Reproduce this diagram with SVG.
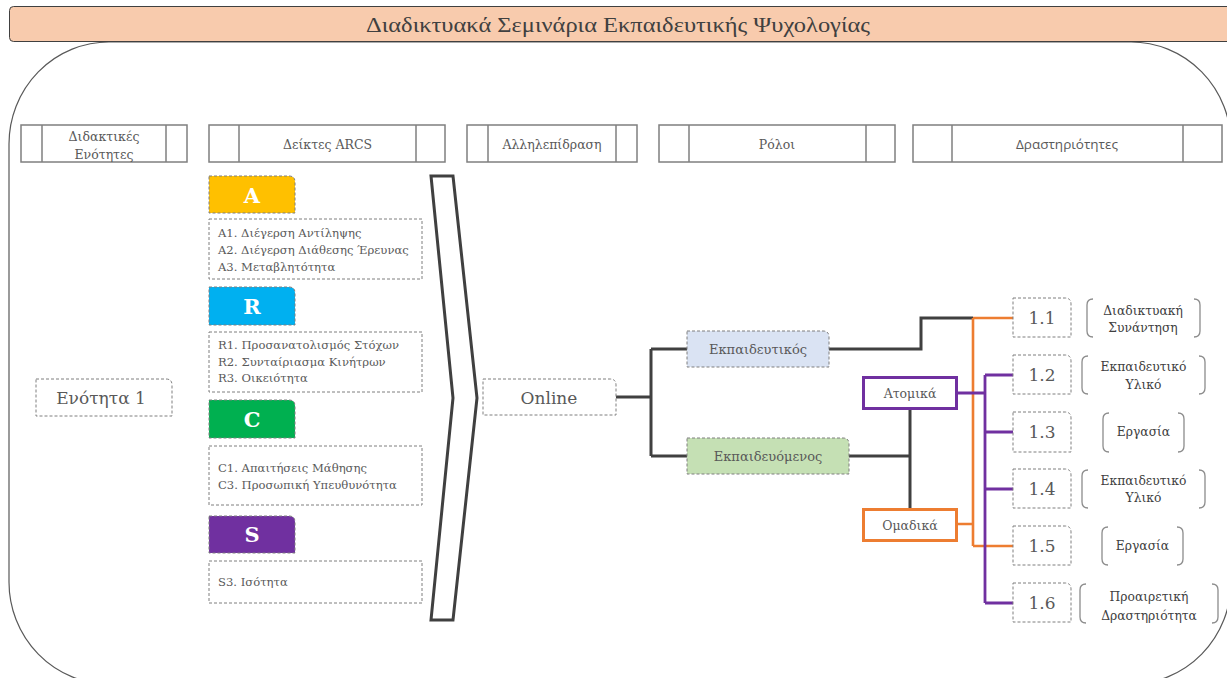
<svg xmlns="http://www.w3.org/2000/svg" width="1227" height="678" viewBox="0 0 1227 678">
  <style>
    .frame { fill: #ffffff; stroke: #595959; stroke-width: 1.2; }
    .hdr { fill: #ffffff; stroke: #7f7f7f; stroke-width: 1.5; }
    .hdr-line { stroke: #7f7f7f; stroke-width: 1.5; }
    .dash { fill: #ffffff; stroke: #7f7f7f; stroke-width: 1; stroke-dasharray: 3 2; }
    .br { fill: none; stroke: #8c8c8c; stroke-width: 1.3; }
    .t { font-family: "DejaVu Serif", "Liberation Serif", serif; fill: #595959; }
    .hd { font-size: 12.5px; text-anchor: middle; }
    .li { font-size: 11.6px; }
    .tab { font-family: "DejaVu Serif", "Liberation Serif", serif; font-weight: bold; font-size: 21px; fill: #ffffff; text-anchor: middle; }
    .num { font-size: 17px; text-anchor: middle; fill: #595959; }
    .lbl { font-size: 12.3px; text-anchor: middle; fill: #404040; }
    .dark { fill: none; stroke: #404040; stroke-width: 3; }
    .orange { fill: none; stroke: #ed7d31; stroke-width: 2.6; }
    .purple { fill: none; stroke: #7030a0; stroke-width: 2.8; }
  </style>

  <!-- outer panel and title bar -->
  <rect class="frame" x="9" y="42" width="1222" height="642" rx="100" ry="102"/>
  <g id="title">
    <rect x="9.5" y="6.5" width="1230" height="35" rx="4" fill="#f8cbad" stroke="#404040" stroke-width="1"/>
    <text x="618" y="32" font-family="'Liberation Serif', serif" font-size="22" fill="#404040" text-anchor="middle" textLength="504" lengthAdjust="spacingAndGlyphs">Διαδικτυακά Σεμινάρια Εκπαιδευτικής Ψυχολογίας</text>
  </g>

  <!-- column headers -->
  <g id="hdr-units">
    <rect class="hdr" x="21" y="125" width="166" height="37"/>
    <line class="hdr-line" x1="42" y1="125" x2="42" y2="162"/>
    <line class="hdr-line" x1="166" y1="125" x2="166" y2="162"/>
    <text class="t hd" x="104" y="141">Διδακτικές</text>
    <text class="t hd" x="104" y="159">Ενότητες</text>
  </g>
  <g id="hdr-arcs">
    <rect class="hdr" x="209" y="125" width="236" height="37"/>
    <line class="hdr-line" x1="239" y1="125" x2="239" y2="162"/>
    <line class="hdr-line" x1="416" y1="125" x2="416" y2="162"/>
    <text class="t hd" x="327.5" y="148.5">Δείκτες ARCS</text>
  </g>
  <g id="hdr-interaction">
    <rect class="hdr" x="467" y="125" width="170" height="37"/>
    <line class="hdr-line" x1="488" y1="125" x2="488" y2="162"/>
    <line class="hdr-line" x1="616" y1="125" x2="616" y2="162"/>
    <text class="t hd" x="552" y="148.5">Αλληλεπίδραση</text>
  </g>
  <g id="hdr-roles">
    <rect class="hdr" x="659" y="125" width="236" height="37"/>
    <line class="hdr-line" x1="689" y1="125" x2="689" y2="162"/>
    <line class="hdr-line" x1="866" y1="125" x2="866" y2="162"/>
    <text class="t hd" x="777" y="148.5">Ρόλοι</text>
  </g>
  <g id="hdr-activities">
    <rect class="hdr" x="913" y="125" width="309" height="37"/>
    <line class="hdr-line" x1="952" y1="125" x2="952" y2="162"/>
    <line class="hdr-line" x1="1183" y1="125" x2="1183" y2="162"/>
    <text x="1067" y="149" font-family="'Open Sans', 'Noto Sans', sans-serif" font-size="13.5" fill="#595959" text-anchor="middle">Δραστηριότητες</text>
  </g>

  <!-- teaching unit -->
  <g id="unit1">
    <path class="dash" d="M36,379 H166 Q172,379 172,385 V416 H36 Z"/>
    <text class="t" x="101" y="404" font-size="17" text-anchor="middle">Ενότητα 1</text>
  </g>

  <!-- ARCS indicators -->
  <g id="arcs-a">
    <path d="M209,176 H289 Q295,176 295,182 V213 H209 Z" fill="#ffc000" stroke="#7f7f7f" stroke-width="1" stroke-dasharray="3 2"/>
    <text class="tab" x="252" y="203">A</text>
    <rect class="dash" x="209" y="219" width="213" height="60"/>
    <text class="t li" x="218" y="237">A1. Διέγερση Αντίληψης</text>
    <text class="t li" x="218" y="254">A2. Διέγερση Διάθεσης Έρευνας</text>
    <text class="t li" x="218" y="271">A3. Μεταβλητότητα</text>
  </g>
  <g id="arcs-r">
    <path d="M209,287 H289 Q295,287 295,293 V325 H209 Z" fill="#00b0f0" stroke="#7f7f7f" stroke-width="1" stroke-dasharray="3 2"/>
    <text class="tab" x="252" y="314">R</text>
    <rect class="dash" x="209" y="332" width="213" height="60"/>
    <text class="t li" x="218" y="349">R1. Προσανατολισμός Στόχων</text>
    <text class="t li" x="218" y="366">R2. Συνταίριασμα Κινήτρων</text>
    <text class="t li" x="218" y="382">R3. Οικειότητα</text>
  </g>
  <g id="arcs-c">
    <path d="M209,400 H289 Q295,400 295,406 V438 H209 Z" fill="#00b050" stroke="#7f7f7f" stroke-width="1" stroke-dasharray="3 2"/>
    <text class="tab" x="252" y="427">C</text>
    <rect class="dash" x="209" y="446" width="213" height="59"/>
    <text class="t li" x="218" y="472">C1. Απαιτήσεις Μάθησης</text>
    <text class="t li" x="218" y="489">C3. Προσωπική Υπευθυνότητα</text>
  </g>
  <g id="arcs-s">
    <path d="M209,516 H289 Q295,516 295,522 V553 H209 Z" fill="#7030a0" stroke="#7f7f7f" stroke-width="1" stroke-dasharray="3 2"/>
    <text class="tab" x="252" y="542">S</text>
    <rect class="dash" x="209" y="561" width="213" height="42"/>
    <text class="t li" x="218" y="586">S3. Ισότητα</text>
  </g>

  <!-- chevron -->
  <g id="chevron">
    <polygon points="431,176 453,176 477,398 453,620 431,620 453,398" fill="#ffffff" stroke="#404040" stroke-width="3" stroke-linejoin="miter"/>
  </g>

  <!-- connectors -->
  <g id="connectors">
    <path class="dark" d="M616,397 H651 M651,349 V456 M651,349 H687 M651,456 H687"/>
    <path class="dark" d="M829,349 H921 V318 H973"/>
    <path class="dark" d="M849,456 H910 M910,409 V509"/>
    <path class="orange" d="M957,524 H973 M973,318 V546 M973,318 H1013 M973,546 H1013"/>
    <path class="purple" d="M957,393 H985 M985,375 V603 M985,375 H1013 M985,432 H1013 M985,489 H1013 M985,603 H1013"/>
  </g>

  <!-- interaction -->
  <g id="online">
    <path class="dash" d="M483,379 H610 Q616,379 616,385 V415 H483 Z"/>
    <text class="t" x="549" y="404" font-size="17" text-anchor="middle">Online</text>
  </g>

  <!-- roles -->
  <g id="role-teacher">
    <path d="M687,331 H823 Q829,331 829,337 V367 H687 Z" fill="#dae3f3" stroke="#7f7f7f" stroke-width="1" stroke-dasharray="3 2"/>
    <text class="t" x="758" y="354" font-size="13" text-anchor="middle">Εκπαιδευτικός</text>
  </g>
  <g id="role-learner">
    <path d="M687,438 H843 Q849,438 849,444 V474 H687 Z" fill="#c5e0b4" stroke="#7f7f7f" stroke-width="1" stroke-dasharray="3 2"/>
    <text class="t" x="768" y="461" font-size="13" text-anchor="middle">Εκπαιδευόμενος</text>
  </g>
  <g id="individual">
    <rect x="863.5" y="377.5" width="93" height="31" fill="#ffffff" stroke="#7030a0" stroke-width="3"/>
    <text class="t" x="910" y="397.5" font-size="12.5" text-anchor="middle">Ατομικά</text>
  </g>
  <g id="group">
    <rect x="863.5" y="509.5" width="93" height="31" fill="#ffffff" stroke="#ed7d31" stroke-width="3"/>
    <text class="t" x="910" y="529.5" font-size="12.5" text-anchor="middle">Ομαδικά</text>
  </g>

  <!-- activities -->
  <g id="act-1-1">
    <path class="dash" d="M1013,298 H1065 Q1071,298 1071,304 V337 H1013 Z"/>
    <text class="t num" x="1042" y="324">1.1</text>
    <path class="br" d="M1093,299 Q1087,299 1087,305 V331 Q1087,337 1093,337 M1194,299 Q1200,299 1200,305 V331 Q1200,337 1194,337"/>
    <text class="t lbl" x="1143" y="315">Διαδικτυακή</text>
    <text class="t lbl" x="1143" y="332">Συνάντηση</text>
  </g>
  <g id="act-1-2">
    <path class="dash" d="M1013,355 H1065 Q1071,355 1071,361 V394 H1013 Z"/>
    <text class="t num" x="1042" y="381">1.2</text>
    <path class="br" d="M1088,356 Q1082,356 1082,362 V388 Q1082,394 1088,394 M1199,356 Q1205,356 1205,362 V388 Q1205,394 1199,394"/>
    <text class="t lbl" x="1143.5" y="371">Εκπαιδευτικό</text>
    <text class="t lbl" x="1143.5" y="389">Υλικό</text>
  </g>
  <g id="act-1-3">
    <path class="dash" d="M1013,412 H1065 Q1071,412 1071,418 V452 H1013 Z"/>
    <text class="t num" x="1042" y="438">1.3</text>
    <path class="br" d="M1109,413 Q1103,413 1103,419 V446 Q1103,452 1109,452 M1178,413 Q1184,413 1184,419 V446 Q1184,452 1178,452"/>
    <text class="t lbl" x="1143.5" y="436">Εργασία</text>
  </g>
  <g id="act-1-4">
    <path class="dash" d="M1013,469 H1065 Q1071,469 1071,475 V508 H1013 Z"/>
    <text class="t num" x="1042" y="495">1.4</text>
    <path class="br" d="M1088,470 Q1082,470 1082,476 V502 Q1082,508 1088,508 M1199,470 Q1205,470 1205,476 V502 Q1205,508 1199,508"/>
    <text class="t lbl" x="1143.5" y="485">Εκπαιδευτικό</text>
    <text class="t lbl" x="1143.5" y="502">Υλικό</text>
  </g>
  <g id="act-1-5">
    <path class="dash" d="M1013,526 H1065 Q1071,526 1071,532 V565 H1013 Z"/>
    <text class="t num" x="1042" y="552">1.5</text>
    <path class="br" d="M1108,527 Q1102,527 1102,533 V559 Q1102,565 1108,565 M1177,527 Q1183,527 1183,533 V559 Q1183,565 1177,565"/>
    <text class="t lbl" x="1142.5" y="550">Εργασία</text>
  </g>
  <g id="act-1-6">
    <path class="dash" d="M1013,583 H1065 Q1071,583 1071,589 V622 H1013 Z"/>
    <text class="t num" x="1042" y="609">1.6</text>
    <path class="br" d="M1086,584 Q1080,584 1080,590 V617 Q1080,623 1086,623 M1212,584 Q1218,584 1218,590 V617 Q1218,623 1212,623"/>
    <text class="t lbl" x="1149" y="601">Προαιρετική</text>
    <text class="t lbl" x="1149" y="620">Δραστηριότητα</text>
  </g>
</svg>
